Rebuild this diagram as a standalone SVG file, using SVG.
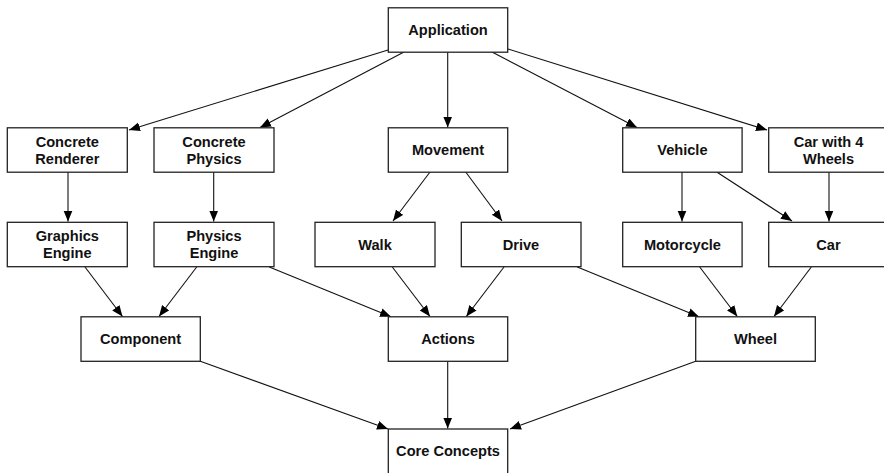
<svg xmlns="http://www.w3.org/2000/svg" width="884" height="473" viewBox="0 0 884 473">
  <style>
    .box { fill: #ffffff; stroke: #222222; stroke-width: 1.3; }
    .lbl { font-family: "Liberation Sans", Arial, Helvetica, sans-serif; font-weight: bold; font-size: 14.6px; fill: #111111; text-anchor: middle; }
    .edge { stroke: #111111; stroke-width: 1.1; fill: none; marker-end: url(#arrow); }
  </style>
  <defs>
    <marker id="arrow" markerUnits="userSpaceOnUse" markerWidth="12" markerHeight="10" refX="11" refY="4.5" orient="auto">
      <path d="M0,0 L11,4.5 L0,9 z" fill="#000000"/>
    </marker>
  </defs>
  <rect width="884" height="473" fill="#ffffff"/>

  <g id="connectors">
    <line class="edge" x1="388" y1="50" x2="129" y2="130"/>
    <line class="edge" x1="404" y1="52" x2="260" y2="127.5"/>
    <line class="edge" x1="447.7" y1="52" x2="447.7" y2="127.5"/>
    <line class="edge" x1="492" y1="52" x2="637" y2="127.5"/>
    <line class="edge" x1="508" y1="49" x2="767" y2="130"/>

    <line class="edge" x1="68" y1="172" x2="68" y2="221.5"/>
    <line class="edge" x1="213.7" y1="172" x2="213.7" y2="221.5"/>
    <line class="edge" x1="430" y1="172" x2="393" y2="221"/>
    <line class="edge" x1="465.7" y1="172" x2="502" y2="221"/>
    <line class="edge" x1="682" y1="172" x2="682" y2="221.5"/>
    <line class="edge" x1="716.7" y1="172" x2="792" y2="221"/>
    <line class="edge" x1="829" y1="172" x2="829" y2="221.5"/>

    <line class="edge" x1="85" y1="267" x2="122.5" y2="316.5"/>
    <line class="edge" x1="196.7" y1="267" x2="159" y2="316.5"/>
    <line class="edge" x1="269.3" y1="267" x2="391" y2="316.7"/>
    <line class="edge" x1="392.3" y1="267" x2="430" y2="316.5"/>
    <line class="edge" x1="504" y1="267" x2="466.3" y2="316.5"/>
    <line class="edge" x1="577.3" y1="267" x2="699" y2="316.7"/>
    <line class="edge" x1="699.7" y1="267" x2="737.3" y2="316.5"/>
    <line class="edge" x1="811.3" y1="267" x2="774" y2="316.5"/>

    <line class="edge" x1="200.3" y1="361.3" x2="388" y2="429"/>
    <line class="edge" x1="447.7" y1="361.3" x2="447.7" y2="428.5"/>
    <line class="edge" x1="695.7" y1="361.3" x2="510" y2="429"/>
  </g>

  <g id="application">
    <rect class="box" x="388.3" y="7.8" width="119.4" height="44.4"/>
    <text class="lbl" x="448" y="35">Application</text>
  </g>

  <g id="concrete-renderer">
    <rect class="box" x="7.3" y="127.8" width="120" height="44.4"/>
    <text class="lbl" x="67.3" y="146.5">Concrete</text>
    <text class="lbl" x="67.3" y="163.5">Renderer</text>
  </g>
  <g id="concrete-physics">
    <rect class="box" x="154" y="127.8" width="120" height="44.4"/>
    <text class="lbl" x="214" y="146.5">Concrete</text>
    <text class="lbl" x="214" y="163.5">Physics</text>
  </g>
  <g id="movement">
    <rect class="box" x="388.3" y="127.8" width="119.4" height="44.4"/>
    <text class="lbl" x="448" y="155">Movement</text>
  </g>
  <g id="vehicle">
    <rect class="box" x="622.7" y="127.8" width="119.4" height="44.4"/>
    <text class="lbl" x="682.4" y="155">Vehicle</text>
  </g>
  <g id="car-with-4-wheels">
    <rect class="box" x="768.7" y="127.8" width="120" height="44.4"/>
    <text class="lbl" x="828.5" y="146.5">Car with 4</text>
    <text class="lbl" x="828.5" y="163.5">Wheels</text>
  </g>

  <g id="graphics-engine">
    <rect class="box" x="7.3" y="222.3" width="120" height="44.4"/>
    <text class="lbl" x="67.3" y="241">Graphics</text>
    <text class="lbl" x="67.3" y="258">Engine</text>
  </g>
  <g id="physics-engine">
    <rect class="box" x="154" y="222.3" width="120" height="44.4"/>
    <text class="lbl" x="214" y="241">Physics</text>
    <text class="lbl" x="214" y="258">Engine</text>
  </g>
  <g id="walk">
    <rect class="box" x="315" y="222.3" width="120" height="44.4"/>
    <text class="lbl" x="375" y="249.5">Walk</text>
  </g>
  <g id="drive">
    <rect class="box" x="461.3" y="222.3" width="119.7" height="44.4"/>
    <text class="lbl" x="521" y="249.5">Drive</text>
  </g>
  <g id="motorcycle">
    <rect class="box" x="622.7" y="222.3" width="119.4" height="44.4"/>
    <text class="lbl" x="682.4" y="249.5">Motorcycle</text>
  </g>
  <g id="car">
    <rect class="box" x="768.7" y="222.3" width="120" height="44.4"/>
    <text class="lbl" x="828.5" y="249.5">Car</text>
  </g>

  <g id="component">
    <rect class="box" x="81" y="316.8" width="119.3" height="44.5"/>
    <text class="lbl" x="140.6" y="344">Component</text>
  </g>
  <g id="actions">
    <rect class="box" x="388.3" y="316.8" width="119.4" height="44.5"/>
    <text class="lbl" x="448" y="344">Actions</text>
  </g>
  <g id="wheel">
    <rect class="box" x="695.7" y="316.8" width="119.6" height="44.5"/>
    <text class="lbl" x="755.5" y="344">Wheel</text>
  </g>

  <g id="core-concepts">
    <rect class="box" x="388.3" y="429" width="119.4" height="46"/>
    <text class="lbl" x="448" y="456">Core Concepts</text>
  </g>
</svg>
